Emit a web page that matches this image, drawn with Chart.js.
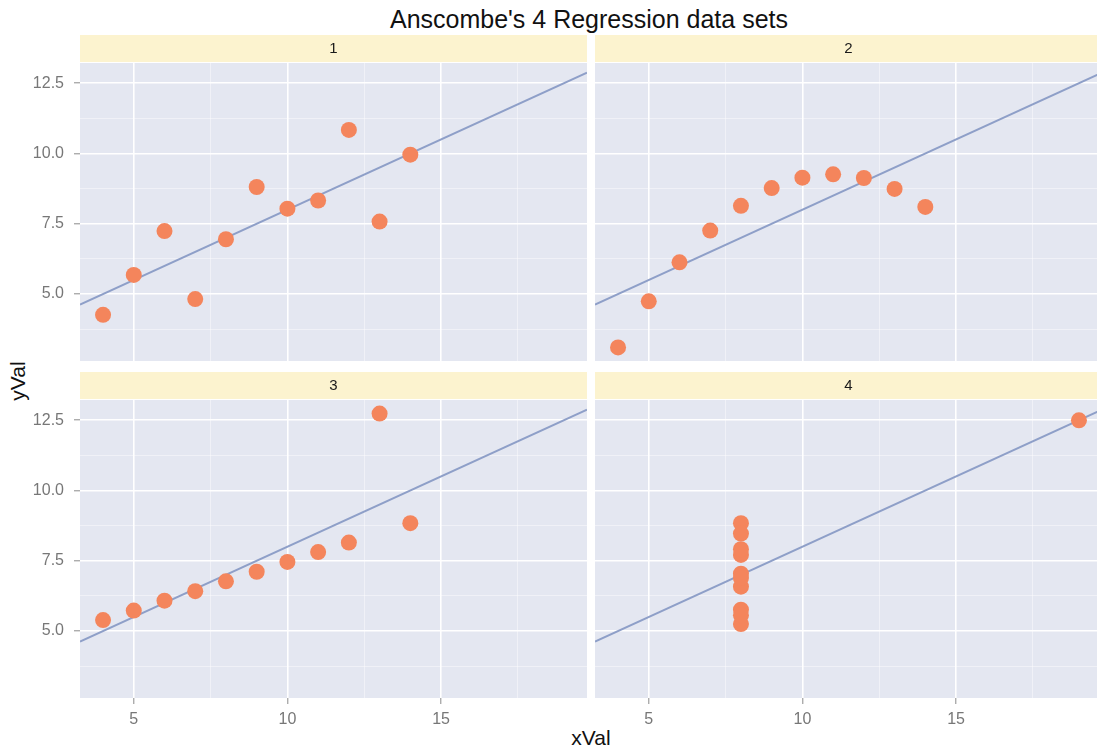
<!DOCTYPE html>
<html>
<head>
<meta charset="utf-8">
<script src="https://cdn.jsdelivr.net/npm/chart.js@4.4.1/dist/chart.umd.min.js"></script>
<style>
  html, body { margin: 0; padding: 0; width: 1097px; height: 750px; overflow: hidden; background: #ffffff; }
  body { position: relative; font-family: "Liberation Sans", Arial, sans-serif; }
  canvas { position: absolute; }
  .txt { position: absolute; white-space: nowrap; color: #111; }
  #title { left: 589px; top: 5px; font-size: 25px; line-height: 28px; transform: translateX(-50%); }
  #xtitle { left: 591px; top: 726px; font-size: 21px; line-height: 24px; transform: translateX(-50%); }
  #ytitle { left: 18px; top: 381px; font-size: 21px; line-height: 24px; transform: translate(-50%, -50%) rotate(-90deg); }
</style>
</head>
<body>
<div class="txt" id="title">Anscombe's 4 Regression data sets</div>
<div class="txt" id="xtitle">xVal</div>
<div class="txt" id="ytitle">yVal</div>
<canvas id="p1" width="587" height="326" style="left:0px;top:35px"></canvas>
<canvas id="p2" width="507" height="326" style="left:595px;top:35px"></canvas>
<canvas id="p3" width="587" height="361" style="left:0px;top:372px"></canvas>
<canvas id="p4" width="507" height="361" style="left:595px;top:372px"></canvas>
<script>
// ---- data (Anscombe's quartet) ----
const panelLabels = ['1', '2', '3', '4'];
const x1 = [10, 8, 13, 9, 11, 14, 6, 4, 12, 7, 5];
const y1 = [8.04, 6.95, 7.58, 8.81, 8.33, 9.96, 7.24, 4.26, 10.84, 4.82, 5.68];
const x2 = [10, 8, 13, 9, 11, 14, 6, 4, 12, 7, 5];
const y2 = [9.14, 8.14, 8.74, 8.77, 9.26, 8.10, 6.13, 3.10, 9.13, 7.26, 4.74];
const x3 = [10, 8, 13, 9, 11, 14, 6, 4, 12, 7, 5];
const y3 = [7.46, 6.77, 12.74, 7.11, 7.81, 8.84, 6.08, 5.39, 8.15, 6.42, 5.73];
const x4 = [8, 8, 8, 8, 8, 8, 8, 19, 8, 8, 8];
const y4 = [6.58, 5.76, 7.71, 8.84, 8.47, 7.04, 5.25, 12.50, 5.56, 7.91, 6.89];

// regression fit y = a + b x (same for all four sets)
const fitIntercept = 3.0;
const fitSlope = 0.5;

// axis ticks
const xMajorTicks = [5, 10, 15];
const xMinorTicks = [7.5, 12.5, 17.5];
const xTickLabels = ['5', '10', '15'];
const yMajorTicks = [5, 7.5, 10, 12.5];
const yMinorTicks = [3.75, 6.25, 8.75, 11.25];
const yTickLabels = ['5.0', '7.5', '10.0', '12.5'];

// axis limits (ggplot-style 5% expansion)
const xLimits = [3.25, 19.75];
const yLimits = [2.618, 13.222];

// ---- styling ----
const FONT = '"Liberation Sans", Arial, sans-serif';
const PANEL_BG = '#E4E7F1';
const STRIP_BG = '#FCF3CF';
const POINT_COLOR = '#F4855C';
const LINE_COLOR = '#8E9FC8';
const STRIP_H = 28;

const panelBg = {
  id: 'panelBg',
  beforeDraw(chart) {
    const a = chart.chartArea, c = chart.ctx;
    c.save();
    c.fillStyle = PANEL_BG;
    c.fillRect(a.left, a.top, a.right - a.left, a.bottom - a.top);
    c.fillStyle = STRIP_BG;
    c.fillRect(a.left, a.top - STRIP_H, a.right - a.left, STRIP_H - 1);
    c.restore();
  }
};

function tickList(major, minor) {
  return major.concat(minor).sort((p, q) => p - q).map(v => ({ value: v }));
}
function gridStyle(major) {
  return {
    color: ctx => (ctx.tick && major.includes(ctx.tick.value)) ? 'rgba(255,255,255,1)' : 'rgba(255,255,255,0.55)',
    lineWidth: ctx => (ctx.tick && major.includes(ctx.tick.value)) ? 1.6 : 0.8,
    tickColor: ctx => (ctx.tick && major.includes(ctx.tick.value)) ? '#8a8a8a' : 'rgba(0,0,0,0)',
    tickWidth: 1,
    tickLength: 6
  };
}
function zeroPadding(s) {
  s.paddingLeft = 0; s.paddingRight = 0; s.paddingTop = 0; s.paddingBottom = 0;
}

function makePanel(id, xs, ys, label, showX, showY) {
  const points = xs.map((x, i) => ({ x: x, y: ys[i] }));
  const fitLine = xLimits.map(x => ({ x: x, y: fitIntercept + fitSlope * x }));
  const xGrid = gridStyle(xMajorTicks);
  xGrid.drawTicks = showX;
  const yGrid = gridStyle(yMajorTicks);
  yGrid.drawTicks = showY;
  new Chart(document.getElementById(id), {
    type: 'scatter',
    data: {
      datasets: [
        {
          data: points,
          backgroundColor: POINT_COLOR,
          borderColor: POINT_COLOR,
          borderWidth: 0,
          pointRadius: 8,
          pointHoverRadius: 8,
          order: 0
        },
        {
          type: 'line',
          data: fitLine,
          borderColor: LINE_COLOR,
          borderWidth: 2,
          pointRadius: 0,
          fill: false,
          order: 1
        }
      ]
    },
    options: {
      responsive: false,
      animation: false,
      devicePixelRatio: 1,
      layout: { padding: 0, autoPadding: false },
      plugins: {
        legend: { display: false },
        tooltip: { enabled: false },
        title: {
          display: true,
          text: label,
          fullSize: false,
          color: '#1a1a1a',
          font: { family: FONT, size: 15, weight: 'normal', lineHeight: 1 },
          padding: { top: 6, bottom: 7 }
        }
      },
      scales: {
        x: {
          type: 'linear',
          min: xLimits[0],
          max: xLimits[1],
          afterBuildTicks: s => { s.ticks = tickList(xMajorTicks, xMinorTicks); },
          afterFit: s => { s.height = showX ? 35 : 0; zeroPadding(s); },
          border: { display: false },
          grid: xGrid,
          ticks: {
            display: showX,
            color: '#777777',
            padding: 6,
            maxRotation: 0,
            font: { family: FONT, size: 16 },
            callback: v => { const k = xMajorTicks.indexOf(v); return k >= 0 ? xTickLabels[k] : ''; }
          }
        },
        y: {
          type: 'linear',
          min: yLimits[0],
          max: yLimits[1],
          afterBuildTicks: s => { s.ticks = tickList(yMajorTicks, yMinorTicks); },
          afterFit: s => { s.width = showY ? 80 : 0; zeroPadding(s); },
          border: { display: false },
          grid: yGrid,
          ticks: {
            display: showY,
            color: '#777777',
            padding: 10,
            font: { family: FONT, size: 16 },
            callback: v => { const k = yMajorTicks.indexOf(v); return k >= 0 ? yTickLabels[k] : ''; }
          }
        }
      }
    },
    plugins: [panelBg]
  });
}

makePanel('p1', x1, y1, panelLabels[0], false, true);
makePanel('p2', x2, y2, panelLabels[1], false, false);
makePanel('p3', x3, y3, panelLabels[2], true, true);
makePanel('p4', x4, y4, panelLabels[3], true, false);
</script>
</body>
</html>
